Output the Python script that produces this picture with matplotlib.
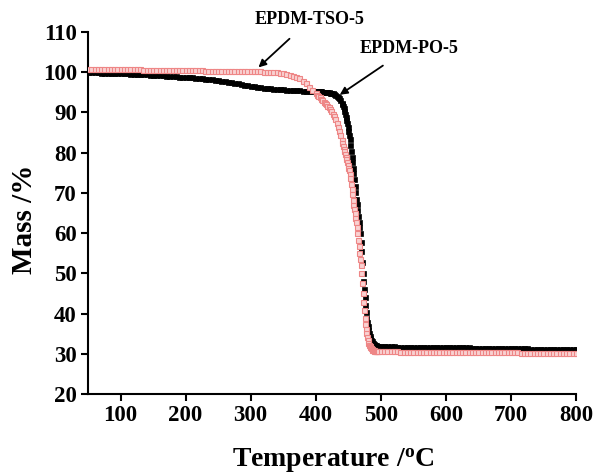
import matplotlib
matplotlib.use("Agg")
import matplotlib.pyplot as plt

plt.rcParams['font.family'] = ['Liberation Serif', 'DejaVu Serif']
plt.rcParams['font.weight'] = 'bold'
plt.rcParams['mathtext.fontset'] = 'custom'
plt.rcParams['mathtext.rm'] = 'Liberation Serif:bold'
plt.rcParams['mathtext.bf'] = 'Liberation Serif:bold'
plt.rcParams['mathtext.it'] = 'Liberation Serif:bold:italic'

# Temperature samples (degC)
temperature = [
    50, 55, 60, 65, 70, 75, 80, 85, 90, 95,
    100, 105, 110, 115, 120, 125, 130, 135, 140, 145,
    150, 155, 160, 165, 170, 175, 180, 185, 190, 195,
    200, 205, 210, 215, 220, 225, 230, 235, 240, 245,
    250, 255, 260, 265, 270, 275, 280, 285, 290, 295,
    300, 305, 310, 315, 320, 325, 330, 335, 340, 345,
    350, 355, 360, 365, 370, 375, 380, 385, 390, 395,
    400, 402, 404, 406, 408, 410, 412, 414, 416, 418,
    420, 422, 424, 426, 428, 430, 432, 434, 436, 438, 440,
    441, 442, 443, 444, 445, 446, 447, 448, 449, 450,
    451, 452, 453, 454, 455, 456, 457, 458, 459, 460,
    461, 462, 463, 464, 465, 466, 467, 468, 469, 470,
    471, 472, 473, 474, 475, 476, 477, 478, 479, 480,
    481, 482, 483, 484, 485, 486, 487, 488, 489, 490,
    491, 492, 493, 494, 495,
    500, 505, 510, 515, 520, 525, 530, 535, 540, 545, 550,
    555, 560, 565, 570, 575, 580, 585, 590, 595, 600,
    605, 610, 615, 620, 625, 630, 635, 640, 645, 650,
    655, 660, 665, 670, 675, 680, 685, 690, 695, 700,
    705, 710, 715, 720, 725, 730, 735, 740, 745, 750,
    755, 760, 765, 770, 775, 780, 785, 790, 795, 800,
]

# EPDM-PO-5 (black, filled squares)
mass_po5 = [
    100.0, 100.0, 99.95, 99.95, 99.9, 99.9, 99.85, 99.85, 99.8, 99.8,
    99.75, 99.7, 99.7, 99.65, 99.6, 99.6, 99.55, 99.5, 99.45, 99.4,
    99.35, 99.3, 99.25, 99.2, 99.15, 99.1, 99.05, 99.0, 98.9, 98.85,
    98.8, 98.75, 98.7, 98.6, 98.55, 98.45, 98.4, 98.3, 98.2, 98.1,
    98.0, 97.9, 97.75, 97.6, 97.5, 97.35, 97.2, 97.05, 96.9, 96.8,
    96.65, 96.5, 96.4, 96.3, 96.2, 96.1, 96.0, 95.95, 95.9, 95.8,
    95.75, 95.7, 95.65, 95.6, 95.55, 95.5, 95.45, 95.4, 95.4, 95.35,
    95.3, 95.28, 95.26, 95.24, 95.22, 95.2, 95.16, 95.12, 95.08, 95.04,
    95.0, 94.92, 94.84, 94.72, 94.58, 94.4, 94.15, 93.85, 93.5, 93.0, 92.4,
    92.0, 91.5, 91.0, 90.3, 89.6, 88.9, 88.2, 87.3, 86.4, 85.4,
    84.4, 83.3, 81.9, 80.5, 79.0, 77.6, 76.3, 75.0, 73.4, 71.7,
    70.2, 68.6, 67.2, 65.7, 64.2, 62.8, 61.4, 60.0, 57.8, 55.5,
    52.8, 50.0, 48.0, 46.0, 44.0, 42.2, 40.5, 39.0, 37.8, 36.8,
    35.9, 35.1, 34.4, 33.8, 33.4, 33.1, 32.8, 32.6, 32.45, 32.3,
    32.2, 32.1, 32.0, 31.95, 31.9,
    31.85, 31.84, 31.83, 31.82, 31.81, 31.80, 31.79, 31.78, 31.77, 31.76, 31.75,
    31.74, 31.73, 31.72, 31.71, 31.70, 31.69, 31.68, 31.67, 31.66, 31.65,
    31.64, 31.63, 31.62, 31.61, 31.60, 31.58, 31.57, 31.56, 31.55, 31.54,
    31.52, 31.51, 31.50, 31.48, 31.47, 31.46, 31.44, 31.43, 31.42, 31.40,
    31.39, 31.37, 31.36, 31.34, 31.33, 31.31, 31.30, 31.28, 31.27, 31.25,
    31.24, 31.22, 31.21, 31.19, 31.18, 31.16, 31.15, 31.13, 31.12, 31.10,
]

# EPDM-TSO-5 (red, open squares)
mass_tso5 = [
    100.9, 100.9, 100.9, 100.85, 100.85, 100.85, 100.8, 100.8, 100.8, 100.8,
    100.75, 100.75, 100.75, 100.7, 100.7, 100.7, 100.7, 100.65, 100.65, 100.65,
    100.6, 100.6, 100.6, 100.6, 100.55, 100.55, 100.55, 100.55, 100.5, 100.5,
    100.5, 100.5, 100.45, 100.45, 100.45, 100.45, 100.4, 100.4, 100.4, 100.4,
    100.4, 100.35, 100.35, 100.35, 100.35, 100.3, 100.3, 100.3, 100.3, 100.3,
    100.25, 100.25, 100.2, 100.2, 100.15, 100.1, 100.1, 100.05, 100.0, 99.85,
    99.7, 99.55, 99.35, 99.1, 98.8, 98.5, 97.9, 97.2, 96.4, 95.6,
    94.8, 94.45, 94.1, 93.75, 93.4, 93.0, 92.7, 92.35, 92.0, 91.65,
    91.3, 90.8, 90.3, 89.7, 89.1, 88.4, 87.5, 86.5, 85.5, 84.5, 83.2,
    82.3, 81.6, 81.0, 80.3, 79.7, 79.0, 78.4, 77.7, 77.0, 76.3,
    75.6, 74.8, 73.6, 72.3, 71.0, 69.6, 68.3, 67.1, 66.0, 64.9,
    63.8, 62.7, 61.6, 60.0, 58.4, 56.7, 55.0, 53.6, 52.0, 50.0,
    47.7, 45.2, 42.8, 40.8, 39.0, 37.5, 36.2, 35.1, 34.2, 33.4,
    32.8, 32.3, 31.9, 31.6, 31.4, 31.2, 31.05, 30.95, 30.85, 30.8,
    30.75, 30.7, 30.7, 30.65, 30.65,
    30.60, 30.60, 30.59, 30.58, 30.58, 30.57, 30.56, 30.56, 30.55, 30.54, 30.54,
    30.53, 30.52, 30.52, 30.51, 30.50, 30.50, 30.49, 30.48, 30.48, 30.47,
    30.46, 30.46, 30.45, 30.44, 30.44, 30.43, 30.42, 30.42, 30.41, 30.40,
    30.40, 30.39, 30.38, 30.38, 30.37, 30.36, 30.36, 30.35, 30.34, 30.34,
    30.33, 30.32, 30.31, 30.31, 30.30, 30.29, 30.28, 30.28, 30.27, 30.26,
    30.25, 30.25, 30.24, 30.23, 30.22, 30.22, 30.21, 30.20, 30.20, 30.19,
]

x_ticks = [100, 200, 300, 400, 500, 600, 700, 800]
y_ticks = [20, 30, 40, 50, 60, 70, 80, 90, 100, 110]

fig = plt.figure(figsize=(5.94, 4.74), dpi=100)
ax = fig.add_axes([88 / 594, 80 / 474, 488 / 594, 362 / 474])

ax.plot(temperature, mass_po5, linestyle='none', marker='s', markersize=3.6,
        color='black', markeredgewidth=0.5, zorder=2)
ax.plot(temperature, mass_tso5, linestyle='none', marker='s', markersize=3.6,
        markerfacecolor='#f9d2d2', markeredgecolor='#ee8686', markeredgewidth=0.8,
        zorder=3)

ax.set_xlim(50, 800)
ax.set_ylim(20, 110)
ax.set_xticks(x_ticks)
ax.set_yticks(y_ticks)

for side in ['top', 'right']:
    ax.spines[side].set_visible(False)
for side in ['left', 'bottom']:
    ax.spines[side].set_linewidth(1.5)

ax.tick_params(axis='both', direction='out', length=5, width=1.5,
               labelsize=16.5, pad=3)
for lab in ax.get_xticklabels() + ax.get_yticklabels():
    lab.set_fontweight('bold')

ax.set_xlabel(r'Temperature /$^{\mathrm{o}}$C', fontsize=20, fontweight='bold')
ax.set_ylabel('Mass /%', fontsize=21, fontweight='bold')
ax.xaxis.set_label_coords(0.502, -0.146)
ax.yaxis.set_label_coords(-0.103, 0.482)

ax.annotate('EPDM-TSO-5', xy=(312, 101.2), xytext=(391, 113.0),
            ha='center', va='center', fontsize=13, fontweight='bold',
            annotation_clip=False,
            arrowprops=dict(arrowstyle='-|>', color='black', lw=1.3,
                            mutation_scale=11, shrinkA=8, shrinkB=0))
ax.annotate('EPDM-PO-5', xy=(437, 94.4), xytext=(543, 106.0),
            ha='center', va='center', fontsize=13, fontweight='bold',
            annotation_clip=False,
            arrowprops=dict(arrowstyle='-|>', color='black', lw=1.3,
                            mutation_scale=11, shrinkA=8, shrinkB=0))

fig.savefig('out.png', dpi=100)
